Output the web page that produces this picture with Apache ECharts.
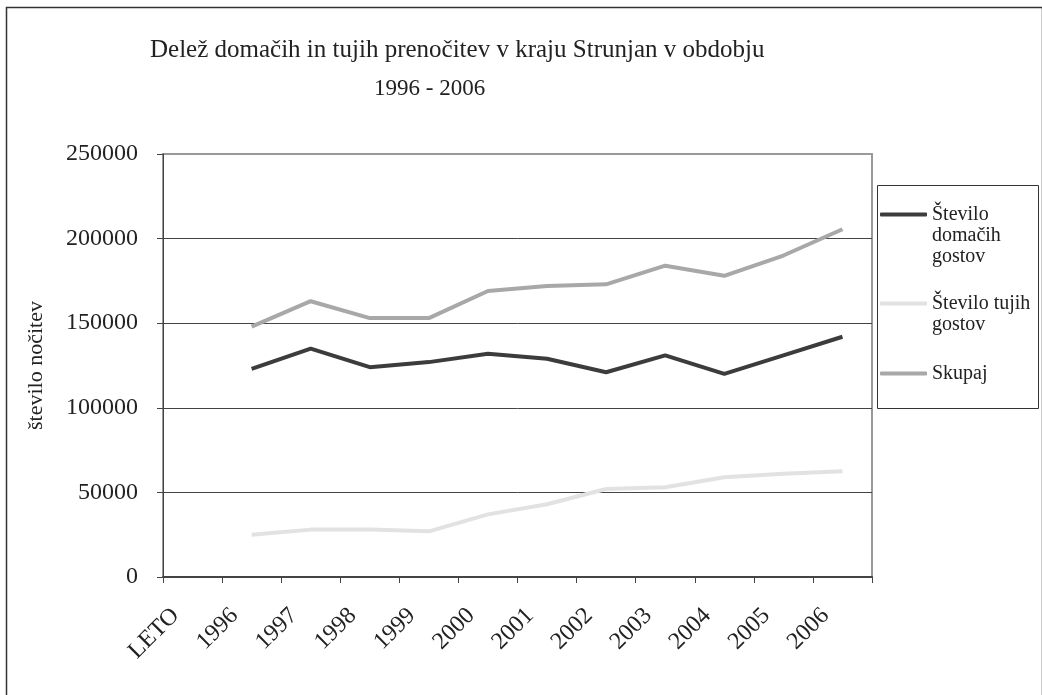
<!DOCTYPE html>
<html>
<head>
<meta charset="utf-8">
<script src="https://cdn.jsdelivr.net/npm/echarts@6/dist/echarts.min.js"></script>
<style>
html,body{margin:0;padding:0;background:#fff;}
#chart{width:1042px;height:695px;}
</style>
</head>
<body>
<div id="chart"></div>
<script>
const categories = ['LETO','1996','1997','1998','1999','2000','2001','2002','2003','2004','2005','2006'];
const seriesNames = ['Število domačih gostov','Število tujih gostov','Skupaj'];
const domaci = [null,123000,135000,124000,127000,132000,129000,121000,131000,120000,131000,142000];
const tuji = [null,25000,28000,28000,27000,37000,43000,52000,53000,59000,61000,62500];
const skupaj = [null,148000,163000,153000,153000,169000,172000,173000,184000,178000,190000,205500];
const yTicks = [0,50000,100000,150000,200000,250000];

const FONT = '"Liberation Serif", "Times New Roman", serif';
const colors = ['#3c3c3c','#e2e2e4','#a8a8ab'];

const chart = echarts.init(document.getElementById('chart'), null, {renderer:'canvas'});

function mkLegend(name, fmt, top){
  return {
    data:[name], orient:'vertical', left:880, top:top, padding:0,
    icon:'roundRect', itemWidth:47, itemHeight:4,
    formatter: function(){ return fmt; },
    textStyle:{fontFamily:FONT, fontSize:20, lineHeight:21, color:'#222'},
    selectedMode:false
  };
}

chart.setOption({
  backgroundColor:'#fff',
  animation:false,
  title:[
    {text:'Delež domačih in tujih prenočitev v kraju Strunjan v obdobju', left:145, top:33,
     textStyle:{fontFamily:FONT, fontSize:25, fontWeight:'normal', color:'#222'}},
    {text:'1996 - 2006', left:369, top:72,
     textStyle:{fontFamily:FONT, fontSize:23, fontWeight:'normal', color:'#222'}}
  ],
  legend:[
    mkLegend(seriesNames[0], '\n\nŠtevilo\ndomačih\ngostov', 162),
    mkLegend(seriesNames[1], '\nŠtevilo tujih\ngostov', 272),
    mkLegend(seriesNames[2], 'Skupaj', 363)
  ],
  graphic:[
    {type:'rect', left:4, top:5, shape:{width:1036, height:700}, style:{fill:'none', stroke:'#333', lineWidth:1.5}, z:-1},
    {type:'rect', left:875, top:183, shape:{width:161, height:223}, style:{fill:'none', stroke:'#333', lineWidth:1}}
  ],
  grid:{left:163, right:170, top:154, bottom:118, show:true, borderColor:'#999', borderWidth:2, backgroundColor:'#fff'},
  xAxis:{
    type:'category', data:categories, boundaryGap:true,
    axisLine:{lineStyle:{color:'#444', width:2}},
    axisTick:{show:true, interval:0, length:6, lineStyle:{color:'#444', width:1}},
    axisLabel:{interval:0, rotate:45, margin:18, padding:[0,24,0,0], fontFamily:FONT, fontSize:24, color:'#222'}
  },
  yAxis:{
    type:'value', min:0, max:250000, interval:50000,
    name:'število nočitev', nameLocation:'middle', nameGap:116,
    nameTextStyle:{fontFamily:FONT, fontSize:22, color:'#222'},
    axisLine:{show:true, lineStyle:{color:'#444', width:1}},
    axisTick:{show:true, length:6, lineStyle:{color:'#444'}},
    axisLabel:{margin:25, fontFamily:FONT, fontSize:24, color:'#222',
      formatter:function(v){ return yTicks.indexOf(v) >= 0 ? String(v) : ''; }},
    splitLine:{show:true, lineStyle:{color:['#444','#444','#444','#444','#444','#999'], width:1}}
  },
  series:[
    {name:seriesNames[2], type:'line', data:skupaj, symbol:'none', lineStyle:{width:4, color:colors[2]}, itemStyle:{color:colors[2]}},
    {name:seriesNames[1], type:'line', data:tuji, symbol:'none', lineStyle:{width:4, color:colors[1]}, itemStyle:{color:colors[1]}},
    {name:seriesNames[0], type:'line', data:domaci, symbol:'none', lineStyle:{width:4, color:colors[0]}, itemStyle:{color:colors[0]}}
  ]
});
</script>
</body>
</html>
